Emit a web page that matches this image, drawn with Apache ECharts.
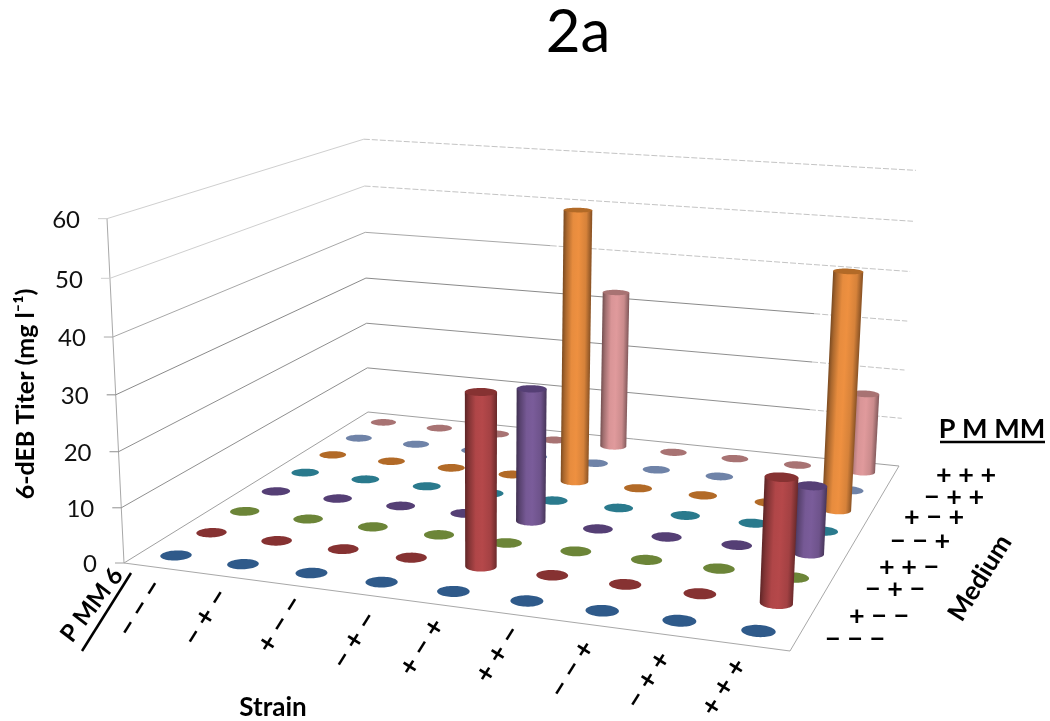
<!DOCTYPE html>
<html><head><meta charset="utf-8">
<style>html,body{margin:0;padding:0;background:#fff}#c{width:1050px;height:721px}</style>
<script src="https://cdn.jsdelivr.net/npm/echarts@6/dist/echarts.min.js"></script>
</head><body><div id="c"></div>
<script>
// ---------- data ----------
const strains = ['\u2212 \u2212 \u2212','\u2212 + \u2212','+ \u2212 \u2212','\u2212 + \u2212','+ \u2212 +','+ + \u2212','\u2212 \u2212 +','\u2212 + +','+ + +'];
const media   = ['\u2212 \u2212 \u2212','+ \u2212 \u2212','\u2212 + \u2212','+ + \u2212','\u2212 \u2212 +','+ \u2212 +','\u2212 + +','+ + +'];
const yTicks  = [0,10,20,30,40,50,60];
const medium0 = [0,0,0,0,0,0,0,0,0];
const medium1 = [0,0,0,0,31.1,0,0,0,21.7];
const medium2 = [0,0,0,0,0,0,0,0,0];
const medium3 = [0,0,0,0,25.2,0,0,0,12.5];
const medium4 = [0,0,0,0,0,0,0,0,0];
const medium5 = [0,0,0,0,53.7,0,0,0,45.7];
const medium6 = [0,0,0,0,0,0,0,0,0];
const medium7 = [0,0,0,0,32.6,0,0,0,16.1];
const mediumValues = [medium0,medium1,medium2,medium3,medium4,medium5,medium6,medium7];

// ---------- styles ----------
const capColors  = ['#2f5a8a','#863232','#6c8538','#553f75','#2a7a8d','#b26a27','#6f83a8','#a87373'];
const bodyColors = ['#4a7ebb','#b5484a','#8aa84a','#7a5c9a','#3aa0b8','#ee9040','#8ea6cf','#e09a9c'];
const FONT = 'Lato, Carlito, "Open Sans", sans-serif';
function shade(hex,k){
  const n=parseInt(hex.slice(1),16);
  return 'rgb('+Math.round((n>>16&255)*k)+','+Math.round((n>>8&255)*k)+','+Math.round((n&255)*k)+')';
}

// ---------- projection of the floor/height space onto the page ----------
const G = {left:100, top:100, width:720, height:480};
const A=[124,563], B=[790,651], C=[899,466], D=[368,412], VP=[481,7795];
const dx1=B[0]-C[0], dy1=B[1]-C[1], dx2=D[0]-C[0], dy2=D[1]-C[1];
const sx=A[0]-B[0]+C[0]-D[0], sy=A[1]-B[1]+C[1]-D[1];
const den=dx1*dy2-dx2*dy1;
const g=(sx*dy2-dx2*sy)/den, h=(dx1*sy-sx*dy1)/den;
const a=B[0]-A[0]+g*B[0], b=D[0]-A[0]+h*D[0], d=B[1]-A[1]+g*B[1], e=D[1]-A[1]+h*D[1];
const K=-0.04545;
const zMax=yTicks[yTicks.length-1];
function proj(u,v,z){
  const t=K*z/zMax;
  const w=g*u+h*v+1+t;
  return [(a*u+b*v+A[0]+t*VP[0])/w,(d*u+e*v+A[1]+t*VP[1])/w];
}
function toUV(p){return [(p[0]-G.left)/G.width,(G.top+G.height-p[1])/G.height];}

const R_U=0.21/strains.length, R_V=0.2/media.length, RING=56;
function ring(u,v,z){
  const pts=[];
  for(let k=0;k<RING;k++){
    const th=2*Math.PI*k/RING;
    pts.push(proj(u+R_U*Math.cos(th),v+R_V*Math.sin(th),z));
  }
  return pts;
}
function extreme(pts,sign){let m=0;pts.forEach((p,i)=>{if(sign*p[0]>sign*pts[m][0])m=i;});return m;}
function lowerArc(pts,from,to){
  const n=pts.length,arc1=[],arc2=[];
  for(let i=from;;i=(i+1)%n){arc1.push(pts[i]);if(i===to)break;}
  for(let i=from;;i=(i-1+n)%n){arc2.push(pts[i]);if(i===to)break;}
  const my=l=>l.reduce((s,p)=>s+p[1],0)/l.length;
  return my(arc1)>my(arc2)?arc1:arc2;
}
function renderBar(idx){
  return function(params,api){
    const p=api.coord([api.value(0),api.value(1)]);
    const uv=toUV(p), val=api.value(2);
    const top=ring(uv[0],uv[1],val);
    const children=[];
    if(val>0){
      const bot=ring(uv[0],uv[1],0);
      const bl=extreme(bot,-1), br=extreme(bot,1), tl=extreme(top,-1), tr=extreme(top,1);
      const poly=[top[tl],top[tr]].concat(lowerArc(bot,br,bl));
      const mid=[(top[tl][0]+bot[br][0])/2,(top[tl][1]+bot[br][1])/2];
      const ax=[top[tl][0]+top[tr][0]-bot[bl][0]-bot[br][0],top[tl][1]+top[tr][1]-bot[bl][1]-bot[br][1]];
      const L=Math.hypot(ax[0],ax[1]); const n=[-ax[1]/L,ax[0]/L];
      const nx=n[0]<0?[-n[0],-n[1]]:n;
      const r=(bot[br][0]-bot[bl][0])/2;
      const c=bodyColors[idx];
      children.push({type:'polygon',silent:true,shape:{points:poly},style:{fill:{
        type:'linear',global:true,x:mid[0]-nx[0]*r,y:mid[1]-nx[1]*r,x2:mid[0]+nx[0]*r,y2:mid[1]+nx[1]*r,
        colorStops:[
          {offset:0,color:shade(c,0.52)},
          {offset:0.12,color:shade(c,0.72)},
          {offset:0.34,color:shade(c,0.97)},
          {offset:0.55,color:c},
          {offset:0.82,color:shade(c,0.9)},
          {offset:1,color:shade(c,0.6)}
        ]}}});
    }
    children.push({type:'polygon',silent:true,shape:{points:top},style:{fill:capColors[idx]}});
    return {type:'group',children};
  };
}

// ---------- walls ----------
const wallColor={0:'#a0a0a0',10:'#8f8f8f',20:'#8f8f8f',30:'#8a8a8a',40:'#a8a8a8',50:'#cfcfcf',60:'#cfcfcf'};
const solidUntil={0:1,10:0.84,20:0.84,30:0.84,40:0.36,50:0,60:0};
function line(p,q,stroke,dash){
  return {type:'line',silent:true,shape:{x1:p[0],y1:p[1],x2:q[0],y2:q[1]},style:{stroke,lineWidth:1,lineDash:dash||null}};
}
function renderWall(params,api){
  const z=api.value(0), col=wallColor[z], f=solidUntil[z];
  const pA=proj(0,0,z), pD=proj(0,1,z), pC=proj(1,1,z), pS=proj(f,1,z);
  const kids=[
    line([pA[0]-9,pA[1]],pA,col),
    line(pA,pD,col)
  ];
  if(f>0) kids.push(line(pD,pS,col));
  if(f<1) kids.push(line(pS,pC,'#c4c4c4',[6,2]));
  kids.push({type:'text',silent:true,x:pA[0]-27,y:pA[1]+1.5,style:{text:String(z),fontFamily:FONT,fontSize:24,fill:'#111',align:'right',verticalAlign:'middle'}});
  if(z===0){
    kids.push(line(pA,proj(0,0,zMax),'#a8a8a8'));
    kids.push(line(A,B,'#a8a8a8'));
    kids.push(line(B,C,'#a8a8a8'));
  }
  return {type:'group',children:kids};
}

// ---------- hand-placed annotation positions ----------
const strainLabelAt=[[140,608],[205.5,617],[280,624],[354.5,640],[422,647],[498,654],[572,669],[648,680],[724,687]];
const mediumLabelAt=[[855,639],[879,616],[895,589],[909,567],[920,541],[934,517],[954,497],[966,475]];
function txt(t,x,y,size,deg,weight){
  return {type:'text',x,y,rotation:(deg||0)*Math.PI/180,silent:true,
    style:{text:t,fontFamily:FONT,fontSize:size,fontWeight:weight||'bold',fill:'#000',align:'center',verticalAlign:'middle'}};
}
const graphics=[];
strains.forEach((s,i)=>graphics.push(txt(s,strainLabelAt[i][0],strainLabelAt[i][1],28,58)));
media.forEach((s,i)=>graphics.push(txt(s,mediumLabelAt[i][0],mediumLabelAt[i][1],27,0)));
graphics.push(txt('2a',578,33,60,0,'normal'));
graphics.push(txt('P M MM',992,429,27,0));
graphics.push({type:'line',silent:true,shape:{x1:940,y1:442,x2:1045,y2:442},style:{stroke:'#000',lineWidth:2.5}});
graphics.push(txt('Medium',980,578,26,58));
graphics.push(txt('P MM 6',92,605,24,52.6));
graphics.push({type:'line',silent:true,shape:{x1:82,y1:651,x2:131,y2:573},style:{stroke:'#000',lineWidth:2.5}});
graphics.push(txt('Strain',273,708,26,0));
graphics.push(txt('6-dEB Titer (mg l\u207b\u00b9)',26,394,25,90));

const series=[{type:'custom',name:'walls',coordinateSystem:'cartesian2d',
  renderItem:renderWall,data:yTicks.map(z=>[z]),encode:{x:-1,y:-1},silent:true,animation:false}];
for(let j=media.length-1;j>=0;j--){
  series.push({type:'custom',name:media[j],coordinateSystem:'cartesian2d',renderItem:renderBar(j),
    encode:{x:0,y:1},silent:true,animation:false,
    data:mediumValues[j].map((v,i)=>[i,j,v])});
}

const chart=echarts.init(document.getElementById('c'),null,{renderer:'canvas'});
chart.setOption({
  animation:false,
  backgroundColor:'#fff',
  grid:{left:G.left,top:G.top,width:G.width,height:G.height,show:false},
  xAxis:{type:'category',data:strains,show:false},
  yAxis:{type:'category',data:media,show:false},
  graphic:{elements:graphics},
  series
});
</script></body></html>
